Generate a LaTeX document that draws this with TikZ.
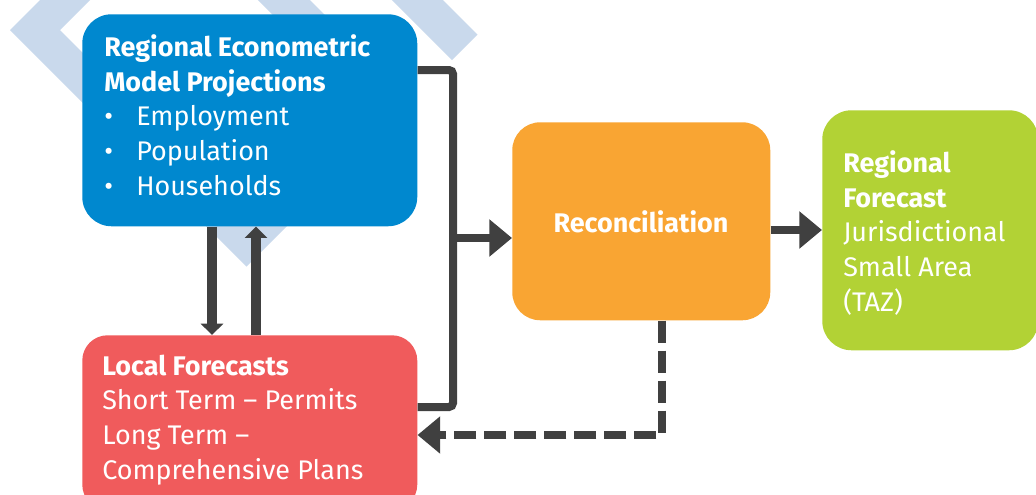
\documentclass[tikz,border=0pt]{standalone}
\usepackage{fontspec}
\setmainfont{Fira Sans}
\usetikzlibrary{arrows.meta}
\definecolor{regblue}{RGB}{0,136,207}
\definecolor{localred}{RGB}{240,91,92}
\definecolor{reconorange}{RGB}{249,165,51}
\definecolor{fcgreen}{RGB}{178,210,53}
\definecolor{linkgray}{RGB}{64,64,64}
\definecolor{watermark}{RGB}{201,217,236}
\begin{document}
\begin{tikzpicture}[x=0.75pt,y=-0.75pt,
    box/.style={rectangle,rounded corners=22pt,anchor=north west,inner sep=0pt},
    txt/.style={text=white,align=left,anchor=base west,inner sep=0pt,
      font=\fontsize{20.2}{25.9}\selectfont},
    link/.style={draw=linkgray,line width=6pt},
    harrow/.style={link,-{Triangle[width=27pt,length=17pt]}},
    varrow/.style={link,line width=7pt,-{Triangle[width=16.5pt,length=8.5pt]}},
    dasharrow/.style={harrow,line width=5.5pt,dash pattern=on 16.5pt off 6pt}]
  \useasboundingbox (0,0) rectangle (1036,494);
  \clip (0,0) rectangle (1036,494);
  \fill[white] (0,0) rectangle (1036,494);
  % watermark bands
  \fill[watermark] (60,-20) -- (10,30) -- (246.5,266.5) -- (393,120) -- (342,120)
    -- (246,216) -- (60,30) -- (110,-20) -- cycle;
  \fill[watermark] (238,-20) -- (290,-20) -- (370,60) -- (318,60) -- cycle;
  \fill[watermark] (372,-20) -- (423,-20) -- (477.5,34.5) -- (452,60) -- cycle;
  % boxes
  \node[box,fill=regblue,minimum width=251.25pt,minimum height=159pt] (model) at (82,14) {};
  \node[box,fill=localred,rounded corners=19pt,minimum width=251.25pt,minimum height=131pt] (local) at (82,335) {};
  \node[box,fill=reconorange,rounded corners=21pt,minimum width=193.5pt,minimum height=148.5pt] (recon) at (512,122) {};
  \node[box,fill=fcgreen,minimum width=162pt,minimum height=180pt] (regional) at (822,110) {};
  % texts (anchored at the baseline of the last line)
  \node[txt] (modeltxt) at (104,195) {\textbf{Regional Econometric}\\
    \textbf{Model Projections}\\
    \makebox[24pt][l]{•}Employment\\
    \makebox[24pt][l]{•}Population\\
    \makebox[24pt][l]{•}Households};
  \node[txt] (localtxt) at (102,479) {\textbf{Local Forecasts}\\
    Short Term – Permits\\
    Long Term –\\
    Comprehensive Plans};
  \node[txt,anchor=base] (recontxt) at (641,232) {\textbf{Reconciliation}};
  \node[txt] (regionaltxt) at (843,311) {\textbf{Regional}\\
    \textbf{Forecast}\\
    Jurisdictional\\
    Small Area\\
    (TAZ)};
  % connectors
  \coordinate (dn) at (212,0);
  \coordinate (up) at (256,0);
  \coordinate (bar) at (453,0);
  \coordinate (top) at (0,70);
  \coordinate (bot) at (0,407);
  \coordinate (mid) at (0,238);
  \coordinate (fc) at (0,230);
  \coordinate (back) at (662,435);
  \draw[varrow] (dn |- model.south) -- (dn |- local.north);
  \draw[varrow] (up |- local.north) -- (up |- model.south);
  \draw[link,rounded corners=3pt] (top -| model.east) -- (top -| bar) -- (bot -| bar) -- (bot -| local.east);
  \draw[harrow] (mid -| bar) -- (mid -| recon.west);
  \draw[harrow] (fc -| recon.east) -- (fc -| regional.west);
  \draw[dasharrow] (back |- recon.south) -- (back) -- (back -| local.east);
\end{tikzpicture}
\end{document}
